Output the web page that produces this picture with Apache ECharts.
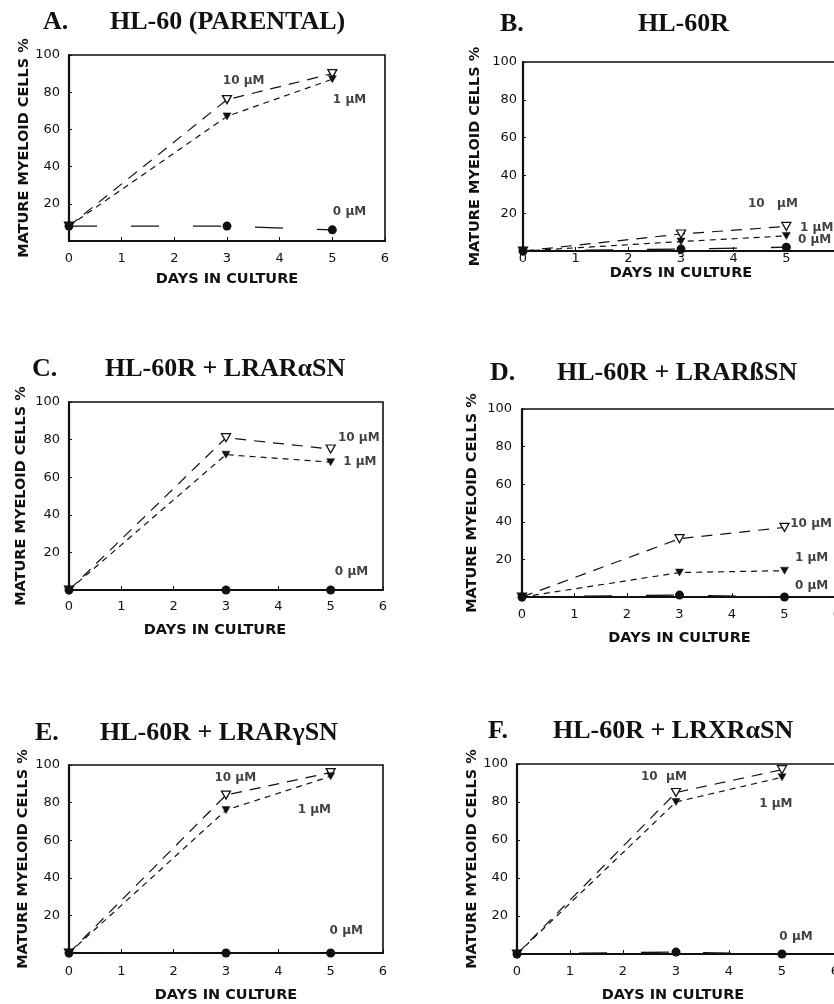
<!DOCTYPE html>
<html>
<head>
<meta charset="utf-8">
<script src="https://cdn.jsdelivr.net/npm/echarts@6/dist/echarts.min.js"></script>
<style>
html,body{margin:0;padding:0;background:#fff;overflow:hidden;}
#chart{width:860px;height:1004px;}
</style>
</head>
<body>
<div id="chart"></div>
<script>
// ---- data ----
const days = [0, 3, 5];
const xTicks = [0, 1, 2, 3, 4, 5, 6];
const yTicks = [20, 40, 60, 80, 100];

const panelLetters = ['A.', 'B.', 'C.', 'D.', 'E.', 'F.'];
const panelTitles = ['HL-60 (PARENTAL)', 'HL-60R', 'HL-60R + LRARαSN', 'HL-60R + LRARßSN', 'HL-60R + LRARγSN', 'HL-60R + LRXRαSN'];

const a10 = [8, 76, 90], a1 = [8, 67, 87], a0 = [8, 8, 6];
const b10 = [0, 9, 13],  b1 = [0, 5, 8],   b0 = [0, 1, 2];
const c10 = [0, 81, 75], c1 = [0, 72, 68], c0 = [0, 0, 0];
const d10 = [0, 31, 37], d1 = [0, 13, 14], d0 = [0, 1, 0];
const e10 = [0, 84, 96], e1 = [0, 76, 94], e0 = [0, 0, 0];
const f10 = [0, 85, 97], f1 = [0, 80, 93], f0 = [0, 1, 0];

// annotation text anchors (left edge, in data units)
const annA = [[2.92, 86, '10 µM'], [5.01, 76, '1 µM'], [5.01, 15.6, '0 µM']];
const annB = [[4.27, 25, '10   µM'], [5.26, 12, '1 µM'], [5.22, 6, '0 µM']];
const annC = [[5.14, 81, '10 µM'], [5.24, 68, '1 µM'], [5.08, 9.4, '0 µM']];
const annD = [[5.11, 39, '10 µM'], [5.2, 21, '1 µM'], [5.2, 6, '0 µM']];
const annE = [[2.78, 93, '10 µM'], [4.37, 76, '1 µM'], [4.98, 12, '0 µM']];
const annF = [[2.34, 93, '10  µM'], [4.57, 79, '1 µM'], [4.95, 9, '0 µM']];

// ---- layout ----
const grids = [
  {left: 69, top: 55, width: 316, height: 186},
  {left: 523, top: 62, width: 316, height: 189},
  {left: 69, top: 402, width: 314, height: 188},
  {left: 522, top: 409, width: 315, height: 188},
  {left: 69, top: 765, width: 314, height: 189},
  {left: 517, top: 764, width: 318, height: 191}
];
const titlePos = [
  {lx: 43, tx: 110, cy: 21},
  {lx: 500, tx: 638, cy: 23},
  {lx: 32, tx: 105, cy: 368},
  {lx: 490, tx: 557, cy: 372},
  {lx: 35, tx: 100, cy: 732},
  {lx: 488, tx: 553, cy: 730}
];
const yNameGap = [36, 40, 40, 42, 38, 36];
const xNameGap = [31, 15, 33, 34, 35, 34];
const xLabelMargin = [11, 1, 10, 11, 12, 11];
const yLabelMargin = [9, 6, 9, 10, 9, 9];
const xNamePad = [0, 0, 22, 0, 0, 6];

const seriesData = [
  [a10, a1, a0, annA], [b10, b1, b0, annB], [c10, c1, c0, annC],
  [d10, d1, d0, annD], [e10, e1, e0, annE], [f10, f1, f0, annF]
];

const titleFont = '"Liberation Serif", "DejaVu Serif", serif';
const sansFont = '"DejaVu Sans", sans-serif';

const titles = [];
const xAxes = [], yAxes = [], series = [];
const pairs = v => days.map((d, i) => [d, v[i]]);

for (let i = 0; i < 6; i++) {
  const tp = titlePos[i];
  titles.push({text: panelLetters[i], left: tp.lx, top: tp.cy - 12, padding: 0,
    textStyle: {fontFamily: titleFont, fontWeight: 'bold', fontSize: 26, color: '#111'}});
  titles.push({text: panelTitles[i], left: tp.tx, top: tp.cy - 12, padding: 0,
    textStyle: {fontFamily: titleFont, fontWeight: 'bold', fontSize: 26, color: '#111'}});

  xAxes.push({
    gridIndex: i, type: 'value', min: 0, max: 6, interval: 1,
    name: 'DAYS IN CULTURE', nameLocation: 'middle', nameGap: xNameGap[i],
    nameTextStyle: {fontFamily: sansFont, fontWeight: 'bold', fontSize: 14.5, color: '#111',
      padding: [0, xNamePad[i], 0, 0]},
    axisLine: {show: true, onZero: false, lineStyle: {color: '#111', width: 2.2}},
    axisTick: {show: true, inside: true, length: 4, lineStyle: {color: '#111', width: 1}},
    axisLabel: {fontFamily: sansFont, fontSize: 13, color: '#111', margin: xLabelMargin[i],
      formatter: v => xTicks.indexOf(v) >= 0 ? String(v) : ''},
    splitLine: {show: false}
  });
  yAxes.push({
    gridIndex: i, type: 'value', min: 0, max: 100, interval: 20,
    name: 'MATURE MYELOID CELLS %', nameLocation: 'middle', nameGap: yNameGap[i], nameRotate: 90,
    nameTextStyle: {fontFamily: sansFont, fontWeight: 'bold', fontSize: 14.5, color: '#111'},
    axisLine: {show: true, onZero: false, lineStyle: {color: '#111', width: 2.2}},
    axisTick: {show: true, inside: true, length: 3, lineStyle: {color: '#111', width: 1}},
    axisLabel: {fontFamily: sansFont, fontSize: 13, color: '#111', margin: yLabelMargin[i],
      formatter: v => yTicks.indexOf(v) >= 0 ? String(v) : ''},
    splitLine: {show: false}
  });

  const [s10, s1, s0, ann] = seriesData[i];
  series.push({
    type: 'line', xAxisIndex: i, yAxisIndex: i, data: pairs(s10),
    symbol: 'triangle', symbolRotate: 180, symbolSize: [9, 8], showAllSymbol: true,
    lineStyle: {color: '#111', width: 1.2, type: [11, 8]},
    itemStyle: {color: '#fff', borderColor: '#111', borderWidth: 1.3},
    z: 3, animation: false
  });
  series.push({
    type: 'line', xAxisIndex: i, yAxisIndex: i, data: pairs(s1),
    symbol: 'triangle', symbolRotate: 180, symbolSize: [8, 7],
    lineStyle: {color: '#111', width: 1.2, type: [6, 5]},
    itemStyle: {color: '#111', borderColor: '#111', borderWidth: 0.5},
    z: 4, animation: false
  });
  series.push({
    type: 'line', xAxisIndex: i, yAxisIndex: i, data: pairs(s0),
    symbol: 'circle', symbolSize: 9,
    lineStyle: {color: '#111', width: 1.3, type: [28, 34]},
    itemStyle: {color: '#111'},
    z: 5, animation: false
  });
  series.push({
    type: 'scatter', xAxisIndex: i, yAxisIndex: i, data: ann,
    symbolSize: 0, silent: true,
    label: {show: true, position: 'right', distance: 0, formatter: p => p.data[2],
      fontFamily: sansFont, fontWeight: 'bold', fontSize: 12, color: '#111'},
    z: 6, animation: false
  });
}

const chart = echarts.init(document.getElementById('chart'), null, {renderer: 'canvas'});
chart.setOption({
  backgroundColor: '#fff',
  animation: false,
  title: titles,
  grid: grids.map(g => Object.assign({show: true, borderColor: '#111', borderWidth: 1.6, backgroundColor: 'transparent'}, g)),
  xAxis: xAxes,
  yAxis: yAxes,
  series: series
});
</script>
</body>
</html>
